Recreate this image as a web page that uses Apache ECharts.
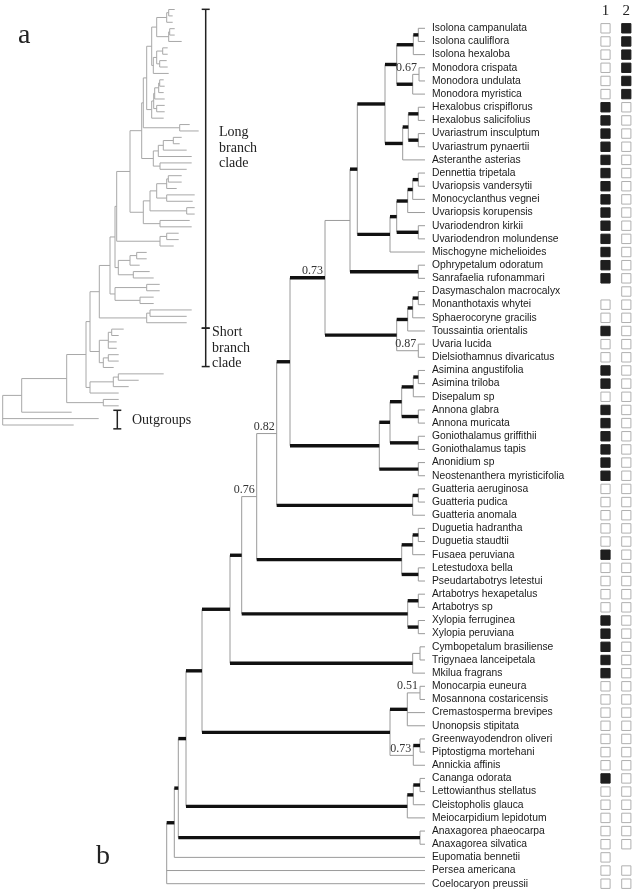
<!DOCTYPE html>
<html><head><meta charset="utf-8">
<script src="https://cdn.jsdelivr.net/npm/echarts/dist/echarts.min.js"></script>
<style>html,body{margin:0;padding:0;background:#fff}#c{width:634px;height:892px}</style>
</head><body><div id="c"></div>
<script>
// ---------- DATA ----------
const taxa = ["Isolona campanulata","Isolona cauliflora","Isolona hexaloba","Monodora crispata","Monodora undulata","Monodora myristica","Hexalobus crispiflorus","Hexalobus salicifolius","Uvariastrum insculptum","Uvariastrum pynaertii","Asteranthe asterias","Dennettia tripetala","Uvariopsis vandersytii","Monocyclanthus vegnei","Uvariopsis korupensis","Uvariodendron kirkii","Uvariodendron molundense","Mischogyne michelioides","Ophrypetalum odoratum","Sanrafaelia rufonammari","Dasymaschalon macrocalyx","Monanthotaxis whytei","Sphaerocoryne gracilis","Toussaintia orientalis","Uvaria lucida","Dielsiothamnus divaricatus","Asimina angustifolia","Asimina triloba","Disepalum sp","Annona glabra","Annona muricata","Goniothalamus griffithii","Goniothalamus tapis","Anonidium sp","Neostenanthera myristicifolia","Guatteria aeruginosa","Guatteria pudica","Guatteria anomala","Duguetia hadrantha","Duguetia staudtii","Fusaea peruviana","Letestudoxa bella","Pseudartabotrys letestui","Artabotrys hexapetalus","Artabotrys sp","Xylopia ferruginea","Xylopia peruviana","Cymbopetalum brasiliense","Trigynaea lanceipetala","Mkilua fragrans","Monocarpia euneura","Mosannona costaricensis","Cremastosperma brevipes","Unonopsis stipitata","Greenwayodendron oliveri","Piptostigma mortehani","Annickia affinis","Cananga odorata","Lettowianthus stellatus","Cleistopholis glauca","Meiocarpidium lepidotum","Anaxagorea phaeocarpa","Anaxagorea silvatica","Eupomatia bennetii","Persea americana","Coelocaryon preussii"];

const charNames = ["1","2"];
const char1 = [0,0,0,0,0,0, 1,1,1,1,1,1,1,1,1,1,1,1,1,1, null,0,0,1,0,0, 1,1,0,1,1,1,1,1,1, 0,0,0,0,0,1,0,0, 0,0,1,1, 1,1,1, 0,0,0,0,0,0,0, 1,0,0,0, 0,0, 0,0,0];
const char2 = [1,1,1,1,1,1, 0,0,0,0,0,0,0,0,0,0,0,0,0,0, 0,0,0,0,0,0, 0,0,0,0,0,0,0,0,0, 0,0,0,0,0,0,0,0, 0,0,0,0, 0,0,0, 0,0,0,0,0,0,0, 0,0,0,0, 0,0, null,0,0];

// tree: tip "index:depthA" ; internal "(...)[*strong][support]:depthB|depthA"
// depthB = position in cladogram b, depthA = position in phylogram a
const TIP_DEPTH = 258.3;
const cladeO = "(((0:172,1:170)*:251.6|166,2:170)*:246.6|164,((3:172,4:172)0.67:252.3|167,5:179)*:246|166)*:230|154";
const cladeP = "(((6:165,7:165)*:251.6|160,(8:164,9:165)*:251.6|157)*:241.6|154,10:166)*:236|150.6";
const cladeN = "(((((11:161,12:162)*:251.6|157,13:161)*:246|156,14:162)*:241|152,(15:162,16:162)*:251.6|154)*:230|151,17:161)*:223.3|149";
const cladeDasy = "((((20:179,21:177)*:251.6|170.6,22:184)*:246|160.6,23:189)*:241|155.6,(24:189,25:184)0.87:251.6|157.3)*:230|150.6";
const cladeAsim = "(((((26:179,27:179)*:251.6|165.6,28:174)*:246.6|164,(29:192,30:190)*:251.6|164)*:235|154,(31:192,32:192)*:251.6|184)*:223.3|147.3,(33:187,34:189)*:251.6|157.3)*:212.6|140.6";
const cladeGuat = "((35:176,36:176)*:251.6|164,37:171)*:246|157.3";
const cladeDug = "(((38:144,39:144)*:251.6|134,40:137)*:246|127.3,(41:147,42:151)*:251.6|130.6)*:235|115.6";
const cladeArta = "((43:157,44:157)*:251.6|144,(45:151,46:151)*:251.6|137.3)*:241|112.3";
const cladeCymbo = "((47:189,48:184):253.3|147.3,49:184)*:246|144";
const cladeMonoc = "(((50:121,51:116)0.51:253.3|109,52:114,53:114)*:240.6|105.6,((54:116,55:116)*:253.3|105.6,56:111)0.73:246.6|100.6)*:223.3|96.6";
const cladeCananga = "(((57:161,58:136)*:253.3|115.6,59:126)*:246.6|110.6,60:116)*:240.6|87.3";
const cladeAnax = "(61:116,62:116)*:253.3|100.6";

const cladeM = "(" + cladeO + "," + cladeP + ")*:218.3|149";
const cladeL = "(" + cladeM + "," + cladeN + ")*:190.6|144";
const cladeK = "(" + cladeL + ",(18:187,19:196)*:251.6|177):183.3|140.6";
const cladeJ = "(" + cladeK + "," + cladeDasy + ")*0.73:158.3|139";
const cladeI = "(" + cladeJ + "," + cladeAsim + ")*:123.3|127.3";
const cladeH = "(" + cladeI + "," + cladeGuat + ")0.82:110|114";
const cladeG = "(" + cladeH + "," + cladeDug + ")0.76:90|112.3";
const cladeF = "(" + cladeG + "," + cladeArta + ")*:75|107.3";
const cladeE = "(" + cladeF + "," + cladeCymbo + ")*:63.3|96.6";
const cladeD = "(" + cladeE + "," + cladeMonoc + ")*:35.3|87.3";
const cladeC = "(" + cladeD + "," + cladeCananga + ")*:19.3|83.3";
const cladeB = "(" + cladeC + "," + cladeAnax + ")*:11.6|64";
const cladeA = "(" + cladeB + ",63:69)*:7.6|19";
const treeNewick = "(" + cladeA + ",64:96,65:71)";

// annotation brackets on tree a: [depthA, rowFrom, rowTo]
const bracketsA = [[203, -0.03, 49.85], [203, 49.85, 55.86], [114.6, 62.7, 65.6]];

// ---------- PARSE / LAYOUT ----------
function parseTree(s){
  let i = 0;
  function node(){
    const n = {children: []};
    if (s[i] === '('){
      i++; n.children.push(node());
      while (s[i] === ','){ i++; n.children.push(node()); }
      i++;
      let lab = '';
      while (i < s.length && !':,)'.includes(s[i])) lab += s[i++];
      n.strong = lab.startsWith('*');
      n.support = lab.replace('*','');
    } else {
      let t = '';
      while (s[i] !== ':') t += s[i++];
      n.tip = +t;
    }
    if (i < s.length && s[i] === ':'){
      i++; let v = '';
      while (i < s.length && !',)'.includes(s[i])) v += s[i++];
      const p = v.split('|');
      if (n.tip !== undefined){ n.b = TIP_DEPTH; n.a = +p[0]; }
      else { n.b = +p[0]; n.a = +p[1]; }
    } else { n.b = 0; n.a = 0; }
    return n;
  }
  return node();
}
const root = parseTree(treeNewick);
function layout(n){
  if (n.children.length){ n.children.forEach(layout); n.y = (n.children[0].y + n.children[n.children.length-1].y)/2; }
  else n.y = n.tip;
}
layout(root);

const segB = [], segBThick = [], segA = [], supports = [];
function collect(n){
  if (!n.children.length) return;
  const y0 = n.children[0].y, y1 = n.children[n.children.length-1].y;
  segB.push([n.b, y0, n.b, y1]);
  segA.push([n.a, y0, n.a, y1]);
  n.children.forEach(c => {
    (c.strong ? segBThick : segB).push([n.b, c.y, c.b, c.y]);
    segA.push([n.a, c.y, c.a, c.y]);
    if (c.support) supports.push([c.b, c.y, c.support]);
    collect(c);
  });
}
collect(root);

const tipLabels = taxa.map((t, i) => [TIP_DEPTH, i, i]);
const boxes = [];
[char1, char2].forEach((arr, c) => arr.forEach((v, r) => { if (v !== null) boxes.push([c, r, v]); }));

// ---------- RENDER ----------
function segRender(color, width){
  return function(params, api){
    const a = api.coord([api.value(0), api.value(1)]);
    const b = api.coord([api.value(2), api.value(3)]);
    return {type:'line', shape:{x1:a[0], y1:a[1], x2:b[0], y2:b[1]}, style:{stroke:color, lineWidth:width, lineCap:'butt'}};
  };
}

const chart = echarts.init(document.getElementById('c'), null, {renderer:'canvas', width:634, height:892});
const hidden = {show:false};
chart.setOption({
  animation: false,
  backgroundColor: '#fff',
  grid: [
    {left:166.7, top:28.3, width:258.3, height:855.4, outerBoundsMode:'none'},
    {left:2.7, top:9.5, width:200, height:415.5, outerBoundsMode:'none'},
    {left:595.1, top:28.3, width:41.6, height:855.4, outerBoundsMode:'none'}
  ],
  xAxis: [
    {gridIndex:0, type:'value', min:0, max:TIP_DEPTH, show:false},
    {gridIndex:1, type:'value', min:0, max:200, show:false},
    {gridIndex:2, type:'category', data:charNames, position:'top', axisLine:hidden, axisTick:hidden, splitLine:hidden,
     axisLabel:{fontFamily:'Liberation Serif', fontSize:15, color:'#222', margin:10}}
  ],
  yAxis: [
    {gridIndex:0, type:'value', min:0, max:65, inverse:true, show:false},
    {gridIndex:1, type:'value', min:0, max:65, inverse:true, show:false},
    {gridIndex:2, type:'value', min:0, max:65, inverse:true, show:false}
  ],
  graphic: [
    {type:'text', left:18, top:22, style:{text:'a', font:'28px "Liberation Serif"', fill:'#222'}},
    {type:'text', left:96, top:843, style:{text:'b', font:'28px "Liberation Serif"', fill:'#222'}},
    {type:'text', left:219, top:125, style:{text:'Long\nbranch\nclade', font:'14px "Liberation Serif"', lineHeight:15.5, fill:'#222'}},
    {type:'text', left:212, top:325, style:{text:'Short\nbranch\nclade', font:'14px "Liberation Serif"', lineHeight:15.5, fill:'#222'}},
    {type:'text', left:132, top:413, style:{text:'Outgroups', font:'14px "Liberation Serif"', fill:'#222'}}
  ],
  series: [
    {type:'custom', xAxisIndex:1, yAxisIndex:1, data:segA, renderItem:segRender('#a8a8a8', 1), z:1},
    {type:'custom', xAxisIndex:1, yAxisIndex:1, data:bracketsA, z:2,
     renderItem:function(params, api){
       const a = api.coord([api.value(0), api.value(1)]);
       const b = api.coord([api.value(0), api.value(2)]);
       const st = {stroke:'#222', lineWidth:1.5};
       return {type:'group', children:[
         {type:'line', shape:{x1:a[0], y1:a[1], x2:b[0], y2:b[1]}, style:st},
         {type:'line', shape:{x1:a[0]-4, y1:a[1], x2:a[0]+4, y2:a[1]}, style:st},
         {type:'line', shape:{x1:b[0]-4, y1:b[1], x2:b[0]+4, y2:b[1]}, style:st}
       ]};
     }},
    {type:'custom', xAxisIndex:0, yAxisIndex:0, data:segB, renderItem:segRender('#9a9a9a', 1), z:2},
    {type:'custom', xAxisIndex:0, yAxisIndex:0, data:segBThick, renderItem:segRender('#111', 3.4), z:3},
    {type:'custom', xAxisIndex:0, yAxisIndex:0, data:tipLabels, z:4,
     renderItem:function(params, api){
       const p = api.coord([api.value(0), api.value(1)]);
       return {type:'text', style:{x:p[0]+7, y:p[1], text:taxa[api.value(2)], font:'10.3px "Liberation Sans"', fill:'#1a1a1a', align:'left', verticalAlign:'middle'}};
     }},
    {type:'custom', xAxisIndex:0, yAxisIndex:0, data:supports, dimensions:['x','y',{name:'s', type:'ordinal'}], z:4,
     renderItem:function(params, api){
       const p = api.coord([api.value(0), api.value(1)]);
       return {type:'text', style:{x:p[0]-2, y:p[1]-1, text:supports[params.dataIndex][2], font:'12px "Liberation Serif"', fill:'#333', align:'right', verticalAlign:'bottom'}};
     }},
    {type:'custom', xAxisIndex:2, yAxisIndex:2, data:boxes, z:4,
     renderItem:function(params, api){
       const p = api.coord([api.value(0), api.value(1)]);
       const on = api.value(2) === 1;
       return {type:'rect', shape:{x:p[0]-4.6, y:p[1]-4.7, width:9.2, height:9.4},
               style:{fill:on ? '#1e1e1e' : '#fff', stroke:on ? '#1e1e1e' : '#b0b0b0', lineWidth:1}};
     }}
  ]
});
</script>
</body></html>
